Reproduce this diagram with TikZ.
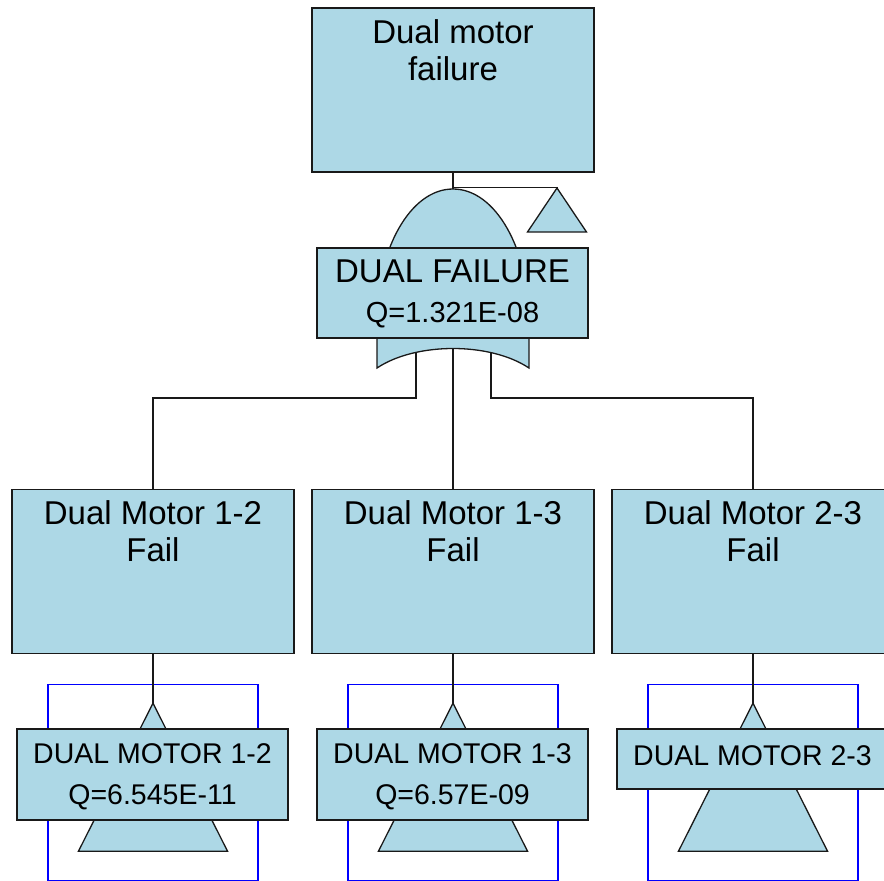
\documentclass[tikz,border=0pt]{standalone}
\usepackage{fontspec}
\setmainfont{Liberation Sans}
\usetikzlibrary{positioning,calc}
\definecolor{ftfill}{HTML}{ADD8E6}
\definecolor{ftblue}{HTML}{0000FF}

\begin{document}
\begin{tikzpicture}[x=1pt, y=-1pt,
    ftline/.style={line width=1.3pt, draw=black!90},
    eventbox/.style={ftline, fill=ftfill, minimum width=282pt, minimum height=164pt, inner sep=0pt},
    labelbox/.style={ftline, fill=ftfill, minimum width=271pt, inner sep=0pt},
    eventtext/.style={align=center, inner sep=0pt, anchor=north, font=\fontsize{33}{37}\selectfont},
    nametext/.style={inner sep=0pt, anchor=base, font=\fontsize{33}{37}\selectfont},
    qtext/.style={inner sep=0pt, anchor=base, font=\fontsize{29}{35}\selectfont},
    smalltext/.style={inner sep=0pt, anchor=base, font=\fontsize{28.5}{34}\selectfont},
    transfer/.style={ftline, fill=ftfill},
    xferframe/.style={draw=ftblue, line width=1.2pt}]
    \clip (0,0) rectangle (884,881);

    % Top event
    \node[eventbox] (top) at (453,90) {};
    \node[eventtext] (toptext) at ($(top.north)+(0,12)$) {Dual motor\\failure};

    % Intermediate events
    \node[eventbox] (e1) at (153,571.5) {};
    \node[eventbox] (e2) at (453,571.5) {};
    \node[eventbox] (e3) at (753,571.5) {};
    \node[eventtext] (e1text) at ($(e1.north)+(0,12)$) {Dual Motor 1-2\\Fail};
    \node[eventtext] (e2text) at ($(e2.north)+(0,12)$) {Dual Motor 1-3\\Fail};
    \node[eventtext] (e3text) at ($(e3.north)+(0,12)$) {Dual Motor 2-3\\Fail};

    % Gate connections
    \coordinate (gapex) at (453,189);
    \coordinate (tout) at (557,188);
    \coordinate (gin1) at (416,345);
    \coordinate (gin2) at (453,345);
    \coordinate (gin3) at (491,345);
    \coordinate (bus) at (0,398);
    \draw[ftline] (top.south) -- (gapex);
    \draw[ftline] (top.south) ++(0,15) -| (tout);
    \draw[ftline] (gin1) -- (gin1 |- bus) -| (e1.north);
    \draw[ftline] (gin2) -- (e2.north);
    \draw[ftline] (gin3) -- (gin3 |- bus) -| (e3.north);

    % Transfer out triangle
    \draw[transfer] (tout) -- ++(29.5,44) -- ++(-59,0) -- cycle;

    % OR gate
    \draw[ftline, fill=ftfill] (377,368) -- (377,320) .. controls (377,250) and (410,189) .. (gapex)
        .. controls (496,189) and (529,250) .. (529,320) -- (529,368)
        .. controls (490,342) and (416,342) .. (377,368) -- cycle;
    \node[labelbox, minimum height=90pt] (dfbox) at (452.5,293) {};
    \node[nametext] (dfname) at ($(dfbox.north)+(0,35)$) {DUAL FAILURE};
    \node[qtext] (dfq) at ($(dfbox.north)+(0,75)$) {Q=1.321E-08};

    % Transfer in triangles
    \foreach \n in {1,2,3} {
        \coordinate (tin\n) at ($(e\n.south)+(0,49)$);
        \draw[xferframe] ($(tin\n)+(-105,-19)$) rectangle ($(tin\n)+(105,177)$);
        \draw[ftline] (e\n.south) -- (tin\n);
        \draw[transfer] (tin\n) -- ++(74.5,148) -- ++(-149,0) -- cycle;
    }

    % Basic event labels
    \node[labelbox, minimum height=91pt] (m12) at (152.5,774.5) {};
    \node[smalltext] (m12name) at ($(m12.north)+(0,35)$) {DUAL MOTOR 1-2};
    \node[smalltext] (m12q) at ($(m12.north)+(0,76)$) {Q=6.545E-11};

    \node[labelbox, minimum height=91pt] (m13) at (452.5,774.5) {};
    \node[smalltext] (m13name) at ($(m13.north)+(0,35)$) {DUAL MOTOR 1-3};
    \node[smalltext] (m13q) at ($(m13.north)+(0,76)$) {Q=6.57E-09};

    \node[labelbox, minimum height=60pt] (m23) at (752.5,759) {};
    \node[smalltext] (m23name) at ($(m23.north)+(0,37)$) {DUAL MOTOR 2-3};
\end{tikzpicture}
\end{document}
